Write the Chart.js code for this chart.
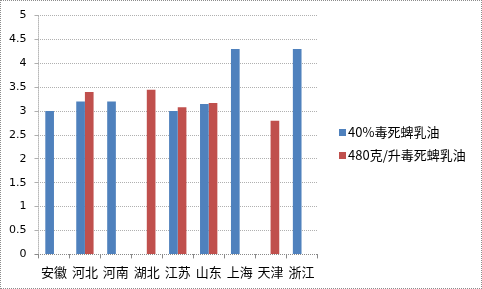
<!DOCTYPE html>
<html><head><meta charset="utf-8">
<script src="https://cdn.jsdelivr.net/npm/chart.js@4"></script>
<style>
html,body{margin:0;padding:0;background:#fff;}
#wrap{width:482px;height:289px;box-sizing:border-box;border:1px dotted #8c8c8c;position:relative;}
#c{display:block;}
</style></head>
<body><div id="wrap"><canvas id="c" width="480" height="287"></canvas></div>
<script>
const categories = ['安徽','河北','河南','湖北','江苏','山东','上海','天津','浙江'];
const series1Name = '40%毒死蜱乳油';
const series1 = [3.0, 3.2, 3.2, null, 3.0, 3.15, 4.3, null, 4.3];
const series2Name = '480克/升毒死蜱乳油';
const series2 = [null, 3.4, null, 3.45, 3.08, 3.17, null, 2.8, null];
const yTicks = [0,0.5,1,1.5,2,2.5,3,3.5,4,4.5,5];

const NUMFONT = "'DejaVu Sans',sans-serif";
const CJKFONT = "'Noto Sans CJK SC',sans-serif";

const sideLegend = {
  id: 'sideLegend',
  afterDraw(chart) {
    const ctx = chart.ctx;
    ctx.save();
    ctx.font = '13px ' + CJKFONT;
    ctx.textBaseline = 'middle';
    ctx.textAlign = 'left';
    const x = 338, ys = [131, 154];
    chart.data.datasets.forEach((ds, i) => {
      ctx.fillStyle = ds.backgroundColor;
      ctx.fillRect(x, ys[i] - 3, 7, 7);
      ctx.fillStyle = '#000';
      ctx.fillText(ds.label, x + 9, ys[i]);
    });
    ctx.restore();
  }
};

new Chart(document.getElementById('c'), {
  type: 'bar',
  data: {
    labels: categories,
    datasets: [
      {label: series1Name, data: series1, backgroundColor: '#4F81BD', borderWidth: 0, categoryPercentage: 0.56, barPercentage: 1, skipNull: false},
      {label: series2Name, data: series2, backgroundColor: '#C0504D', borderWidth: 0, categoryPercentage: 0.56, barPercentage: 1, skipNull: false}
    ]
  },
  plugins: [sideLegend],
  options: {
    responsive: false,
    animation: false,
    layout: {padding: {top: 14, bottom: 2, left: 0, right: 164}},
    plugins: {
      legend: {display: false},
      tooltip: {enabled: false}
    },
    scales: {
      x: {
        grid: {display: true, drawOnChartArea: true, drawTicks: true, tickLength: 4, offset: true,
               color: (c) => c.index === 0 ? '#8a8a8a' : 'rgba(0,0,0,0)', tickColor: '#8a8a8a'},
        border: {display: false, dash: [1,1]},
        ticks: {color: '#000', padding: 6, maxRotation: 0, font: {family: CJKFONT, size: 13}}
      },
      y: {
        min: 0, max: 5,
        afterBuildTicks: (s) => { s.ticks = yTicks.map(v => ({value: v})); },
        grid: {tickLength: 4, drawTicks: true,
               color: (c) => (c.tick && c.tick.value === 0) ? '#8a8a8a' : '#b0b0b0'},
        border: {display: false, dash: [1,1]},
        ticks: {color: '#000', padding: 8, font: {family: NUMFONT, size: 11}, callback: (v) => String(v)}
      }
    }
  }
});
</script></body></html>
